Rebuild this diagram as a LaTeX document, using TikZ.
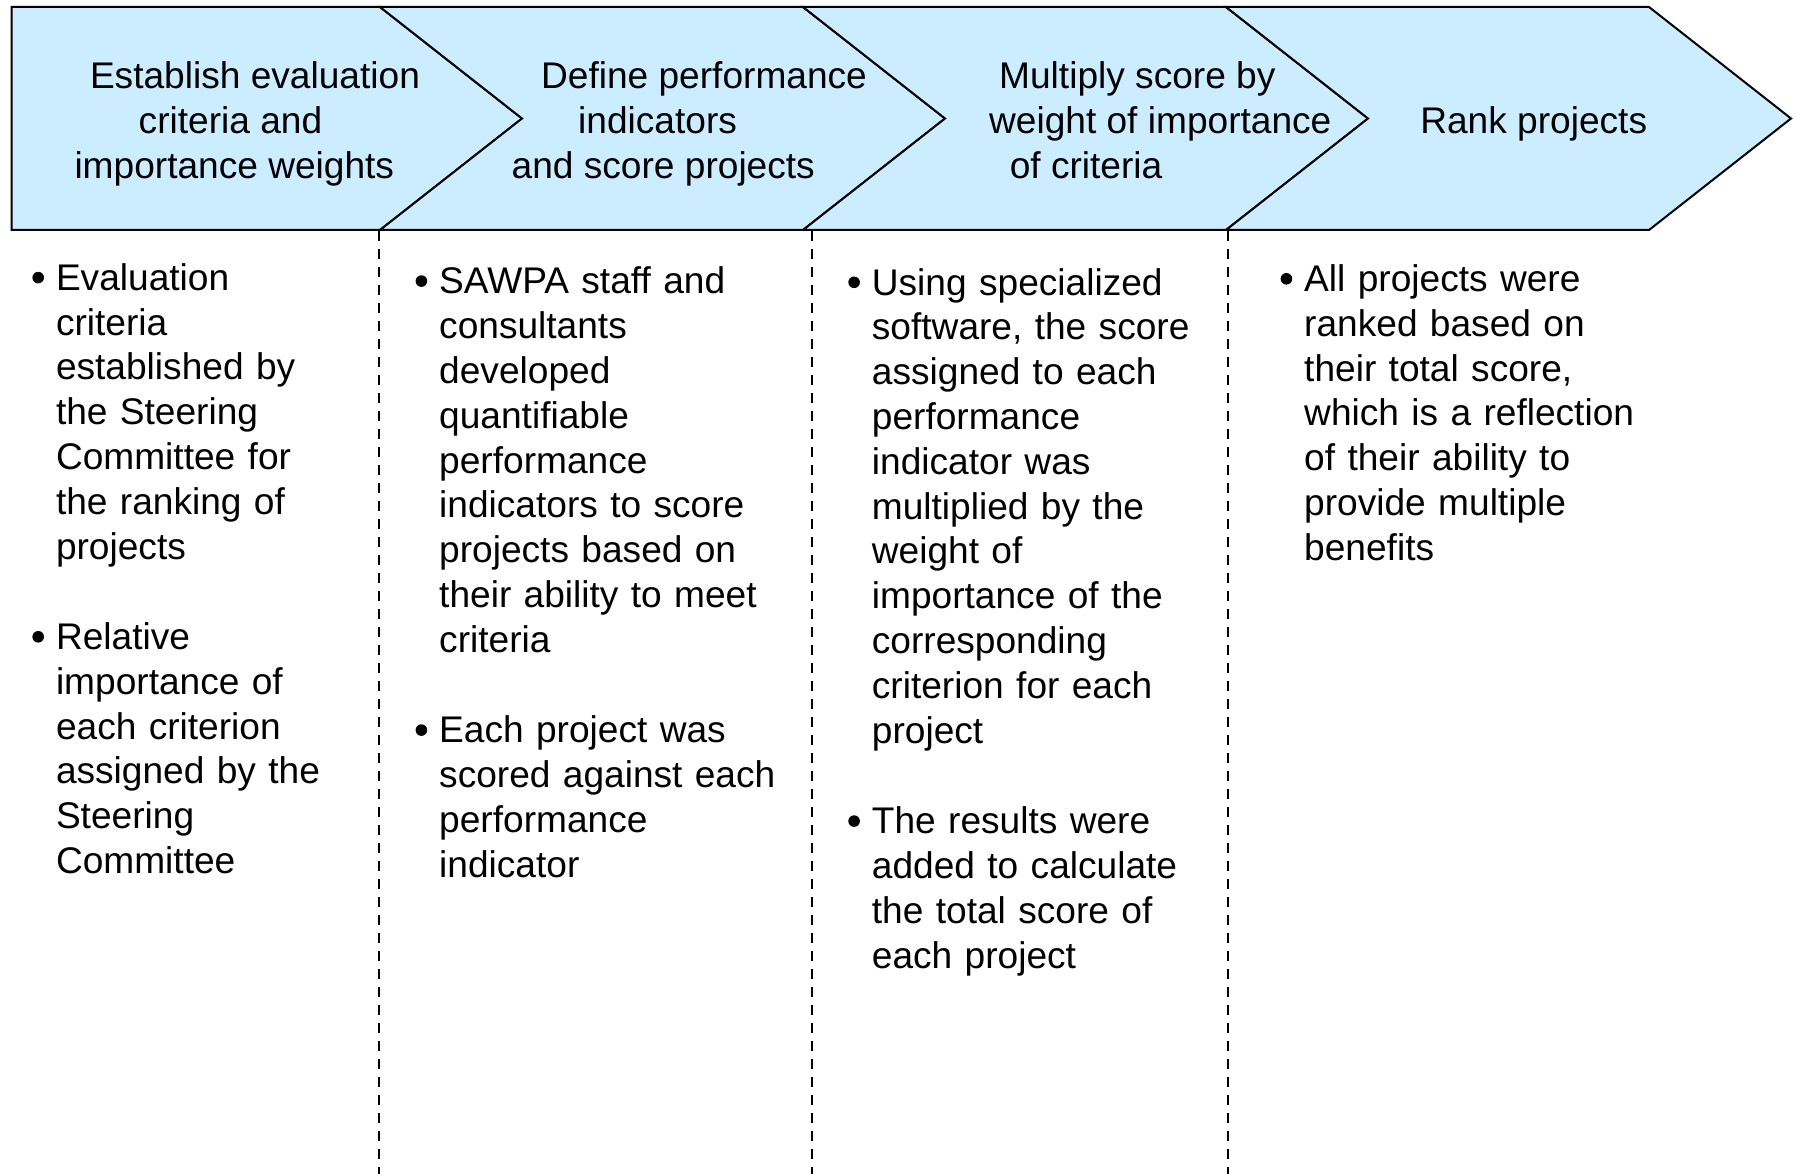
\documentclass[tikz,border=0pt]{standalone}
\usepackage{fontspec}
\setmainfont{Liberation Sans}
\definecolor{bandblue}{RGB}{204,236,255}
\newcommand{\mybul}{\llap{\raisebox{6.9pt}{\tikz\fill[black] (0,0) circle [radius=5.8pt];}\hspace{12pt}}}
\begin{document}
\begin{tikzpicture}[x=1pt,y=1pt,
  band/.style={draw=black, line width=2pt, fill=bandblue, line join=miter},
  hdr/.style={anchor=base west, inner sep=0pt, font=\fontsize{37.1}{44.8}\selectfont},
  blk/.style={anchor=base west, inner sep=0pt, align=left, text width=480pt, font=\fontsize{37.1}{44.8}\selectfont},
  divider/.style={line width=2pt, dash pattern=on 10pt off 8pt}]
\useasboundingbox (0,0) rectangle (1795,-1174);
% banner
\draw[band] (11.5,-7) -- (380,-7) -- (522,-118.5) -- (380,-230) -- (11.5,-230) -- cycle;
\draw[band] (380,-7) -- (803,-7) -- (945,-118.5) -- (803,-230) -- (380,-230) -- (522,-118.5) -- cycle;
\draw[band] (803,-7) -- (1226,-7) -- (1368,-118.5) -- (1226,-230) -- (803,-230) -- (945,-118.5) -- cycle;
\draw[band] (1226,-7) -- (1649,-7) -- (1791,-118.5) -- (1649,-230) -- (1226,-230) -- (1368,-118.5) -- cycle;
% dividers
\coordinate (d1t) at (379,-231); \coordinate (d1b) at (379,-1174);
\coordinate (d2t) at (811.5,-231); \coordinate (d2b) at (811.5,-1174);
\coordinate (d3t) at (1227.5,-231); \coordinate (d3b) at (1227.5,-1174);
\draw[divider] (d1t) -- (d1b);
\draw[divider] (d2t) -- (d2b);
\draw[divider] (d3t) -- (d3b);
% headers
\node[hdr] (h1a) at (89.8,-88.9) {Establish evaluation};
\node[hdr] (h1b) at (138.5,-133.5) {criteria and};
\node[hdr] (h1c) at (74.3,-178.2) {importance weights};
\node[hdr] (h2a) at (540.9,-88.9) {Define performance};
\node[hdr] (h2b) at (578,-133.5) {indicators};
\node[hdr] (h2c) at (511.5,-178.2) {and score projects};
\node[hdr] (h3a) at (999,-88.9) {Multiply score by};
\node[hdr] (h3b) at (988.9,-133.5) {weight of importance};
\node[hdr] (h3c) at (1009.6,-178.2) {of criteria};
\node[hdr] (h4a) at (1420.1,-133.5) {Rank projects};
% bodies
\node[blk] (c1a) at (55.8,-290.3) {\mybul Evaluation\\criteria\\established by\\the Steering\\Committee for\\the ranking of\\projects};
\node[blk] (c1b) at (55.8,-649.5) {\mybul Relative\\importance of\\each criterion\\assigned by the\\Steering\\Committee};
\node[blk] (c2a) at (439,-293.8) {\mybul SAWPA staff and\\consultants\\developed\\quantifiable\\performance\\indicators to score\\projects based on\\their ability to meet\\criteria};
\node[blk] (c2b) at (439,-742.8) {\mybul Each project was\\scored against each\\performance\\indicator};
\node[blk] (c3a) at (871.7,-295) {\mybul Using specialized\\software, the score\\assigned to each\\performance\\indicator was\\multiplied by the\\weight of\\importance of the\\corresponding\\criterion for each\\project};
\node[blk] (c3b) at (871.7,-833.8) {\mybul The results were\\added to calculate\\the total score of\\each project};
\node[blk] (c4a) at (1304,-291.5) {\mybul All projects were\\ranked based on\\their total score,\\which is a reflection\\of their ability to\\provide multiple\\benefits};
\end{tikzpicture}
\end{document}
